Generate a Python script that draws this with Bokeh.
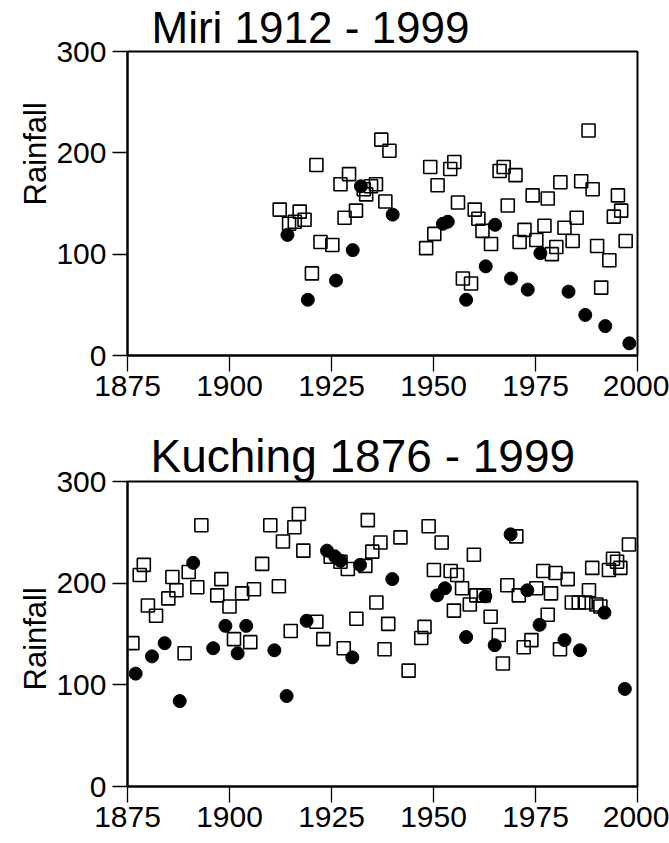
from bokeh.plotting import figure
from bokeh.models import Range1d, FixedTicker, Title
from bokeh.layouts import column
from bokeh.embed import file_html
from bokeh.resources import INLINE

FONT = "Liberation Sans"

x_ticks = [1875, 1900, 1925, 1950, 1975, 2000]
y_ticks = [0, 100, 200, 300]

# Miri 1912 - 1999
miri_circle_year = [1914.2, 1919.2, 1926.1, 1930.2, 1932.2, 1940.0, 1952.3, 1953.5, 1958.0,
                    1962.8, 1965.1, 1969.0, 1973.1, 1976.2, 1983.1, 1987.2, 1992.1, 1998.0]
miri_circle_rain = [119, 55, 74, 104, 167, 139, 130, 132, 55,
                    88, 129, 76, 65, 101, 63, 40, 29, 12]

miri_square_year = [1912.3, 1914.6, 1916.0, 1917.2, 1918.4, 1920.2, 1921.3, 1922.3, 1925.2,
                    1927.2, 1928.2, 1929.3, 1931.0, 1932.9, 1933.5, 1934.7, 1935.9, 1937.2,
                    1938.2, 1939.2, 1948.2, 1949.2, 1950.2, 1951.0, 1954.1, 1955.1, 1956.0,
                    1957.2, 1959.2, 1960.1, 1961.0, 1962.0, 1964.1, 1966.2, 1967.2, 1968.2,
                    1970.1, 1971.1, 1972.3, 1974.3, 1975.2, 1977.2, 1978.0, 1979.0, 1980.1,
                    1981.1, 1982.1, 1984.1, 1985.1, 1986.2, 1988.0, 1989.0, 1990.1, 1991.1,
                    1993.1, 1994.2, 1995.2, 1996.0, 1997.1]
miri_square_rain = [144, 130, 132, 142, 134, 81, 188, 112, 109,
                    169, 136, 179, 143, 164, 159, 167, 169, 213,
                    152, 202, 106, 186, 120, 168, 184, 191, 151,
                    76, 71, 144, 135, 123, 110, 182, 186, 148,
                    178, 112, 124, 158, 114, 128, 155, 100, 107,
                    171, 126, 113, 136, 172, 222, 164, 108, 67,
                    94, 137, 158, 143, 113]

# Kuching 1876 - 1999
kuch_circle_year = [1877.0, 1881.0, 1884.1, 1887.8, 1891.1, 1896.0, 1899.0, 1902.0, 1904.1,
                    1911.0, 1914.0, 1918.9, 1923.9, 1925.9, 1927.2, 1930.1, 1932.0, 1939.9,
                    1950.9, 1952.8, 1958.0, 1962.7, 1965.0, 1968.9, 1973.0, 1976.0, 1982.1,
                    1985.9, 1991.9, 1996.9]
kuch_circle_rain = [111, 128, 141, 84, 220, 136, 158, 131, 158,
                    134, 89, 163, 232, 226, 222, 127, 218, 204,
                    188, 195, 147, 187, 139, 248, 193, 159, 144,
                    134, 171, 96]

kuch_square_year = [1876.2, 1878.0, 1879.0, 1880.0, 1882.0, 1885.0, 1886.0, 1887.0, 1889.0,
                    1890.0, 1892.1, 1893.1, 1897.0, 1898.0, 1900.0, 1901.1, 1903.1, 1905.1,
                    1906.0, 1908.0, 1910.0, 1912.1, 1913.1, 1915.0, 1915.9, 1917.0, 1918.1,
                    1921.3, 1923.0, 1924.8, 1927.2, 1928.0, 1929.0, 1931.1, 1933.3, 1933.9,
                    1935.0, 1936.0, 1937.0, 1938.0, 1938.9, 1941.9, 1943.9, 1947.0, 1947.8,
                    1948.8, 1950.1, 1952.0, 1954.2, 1955.0, 1955.8, 1957.0, 1958.9, 1959.9,
                    1960.5, 1962.3, 1964.0, 1966.0, 1967.0, 1968.1, 1970.3, 1970.9, 1972.1,
                    1974.0, 1975.2, 1976.9, 1978.0, 1978.8, 1979.9, 1981.0, 1982.9, 1983.9,
                    1985.6, 1987.3, 1988.1, 1988.9, 1989.9, 1990.9, 1993.0, 1994.0, 1995.0,
                    1995.8, 1997.9]
kuch_square_rain = [141, 208, 218, 178, 168, 185, 206, 193, 131,
                    211, 196, 257, 188, 204, 177, 145, 190, 142,
                    194, 219, 257, 197, 241, 153, 255, 268, 232,
                    162, 145, 226, 221, 136, 214, 165, 217, 262,
                    231, 181, 240, 135, 160, 245, 114, 146, 157,
                    256, 213, 240, 212, 173, 208, 195, 179, 228,
                    188, 188, 167, 149, 121, 198, 246, 188, 137,
                    144, 195, 212, 169, 190, 210, 135, 204, 181,
                    181, 181, 193, 215, 179, 177, 213, 224, 221,
                    215, 238]


def make_panel(title, sq_x, sq_y, ci_x, ci_y, borders, title_offset, title_size,
               ylab_offset, frame_h):
    left, right, top, bottom = borders
    p = figure(frame_width=510, frame_height=frame_h,
               x_range=Range1d(1875, 2000), y_range=Range1d(0, 300),
               min_border_left=left, min_border_right=right,
               min_border_top=top, min_border_bottom=bottom,
               toolbar_location=None, output_backend="svg")
    p.grid.visible = False
    p.background_fill_color = "white"
    p.border_fill_color = "white"
    p.outline_line_color = "black"
    p.outline_line_width = 2
    p.outline_line_alpha = 1.0

    p.title.text = title
    p.title.align = "left"
    p.title.offset = title_offset
    p.title.standoff = 0
    p.title.text_font = FONT
    p.title.text_font_size = title_size
    p.title.text_font_style = "normal"
    p.title.text_color = "black"

    for ax in (p.xaxis[0], p.yaxis[0]):
        ax.axis_line_color = "black"
        ax.axis_line_width = 2
        ax.major_tick_line_color = "black"
        ax.major_tick_line_width = 1.3
        ax.major_tick_in = 0
        ax.minor_tick_line_color = None
        ax.major_label_text_font = FONT
        ax.major_label_text_font_size = "30px"
        ax.major_label_text_color = "black"
    p.xaxis.ticker = FixedTicker(ticks=x_ticks)
    p.yaxis.ticker = FixedTicker(ticks=y_ticks)
    p.xaxis.major_tick_out = 16
    p.yaxis.major_tick_out = 15
    p.xaxis.major_label_standoff = 4
    p.yaxis.major_label_standoff = 6

    p.add_layout(Title(text="Rainfall", align="left", offset=ylab_offset, standoff=2,
                       text_font=FONT, text_font_size="31px", text_font_style="normal",
                       text_color="black"), "left")

    p.scatter(sq_x, sq_y, marker="square", size=13, fill_alpha=0,
              line_color="black", line_width=1.6)
    p.scatter(ci_x, ci_y, marker="circle", size=13, fill_color="black",
              line_color="black")
    return p


p1 = make_panel("Miri 1912 - 1999", miri_square_year, miri_square_rain,
                miri_circle_year, miri_circle_rain,
                (123, 36, 50, 71), 24, "44px", 150, 304)
p2 = make_panel("Kuching 1876 - 1999", kuch_square_year, kuch_square_rain,
                kuch_circle_year, kuch_circle_rain,
                (127, 32, 55, 58), 23, "46px", 96, 305)

layout = column(p1, p2)
open("out.html", "w").write(file_html(layout, INLINE))
